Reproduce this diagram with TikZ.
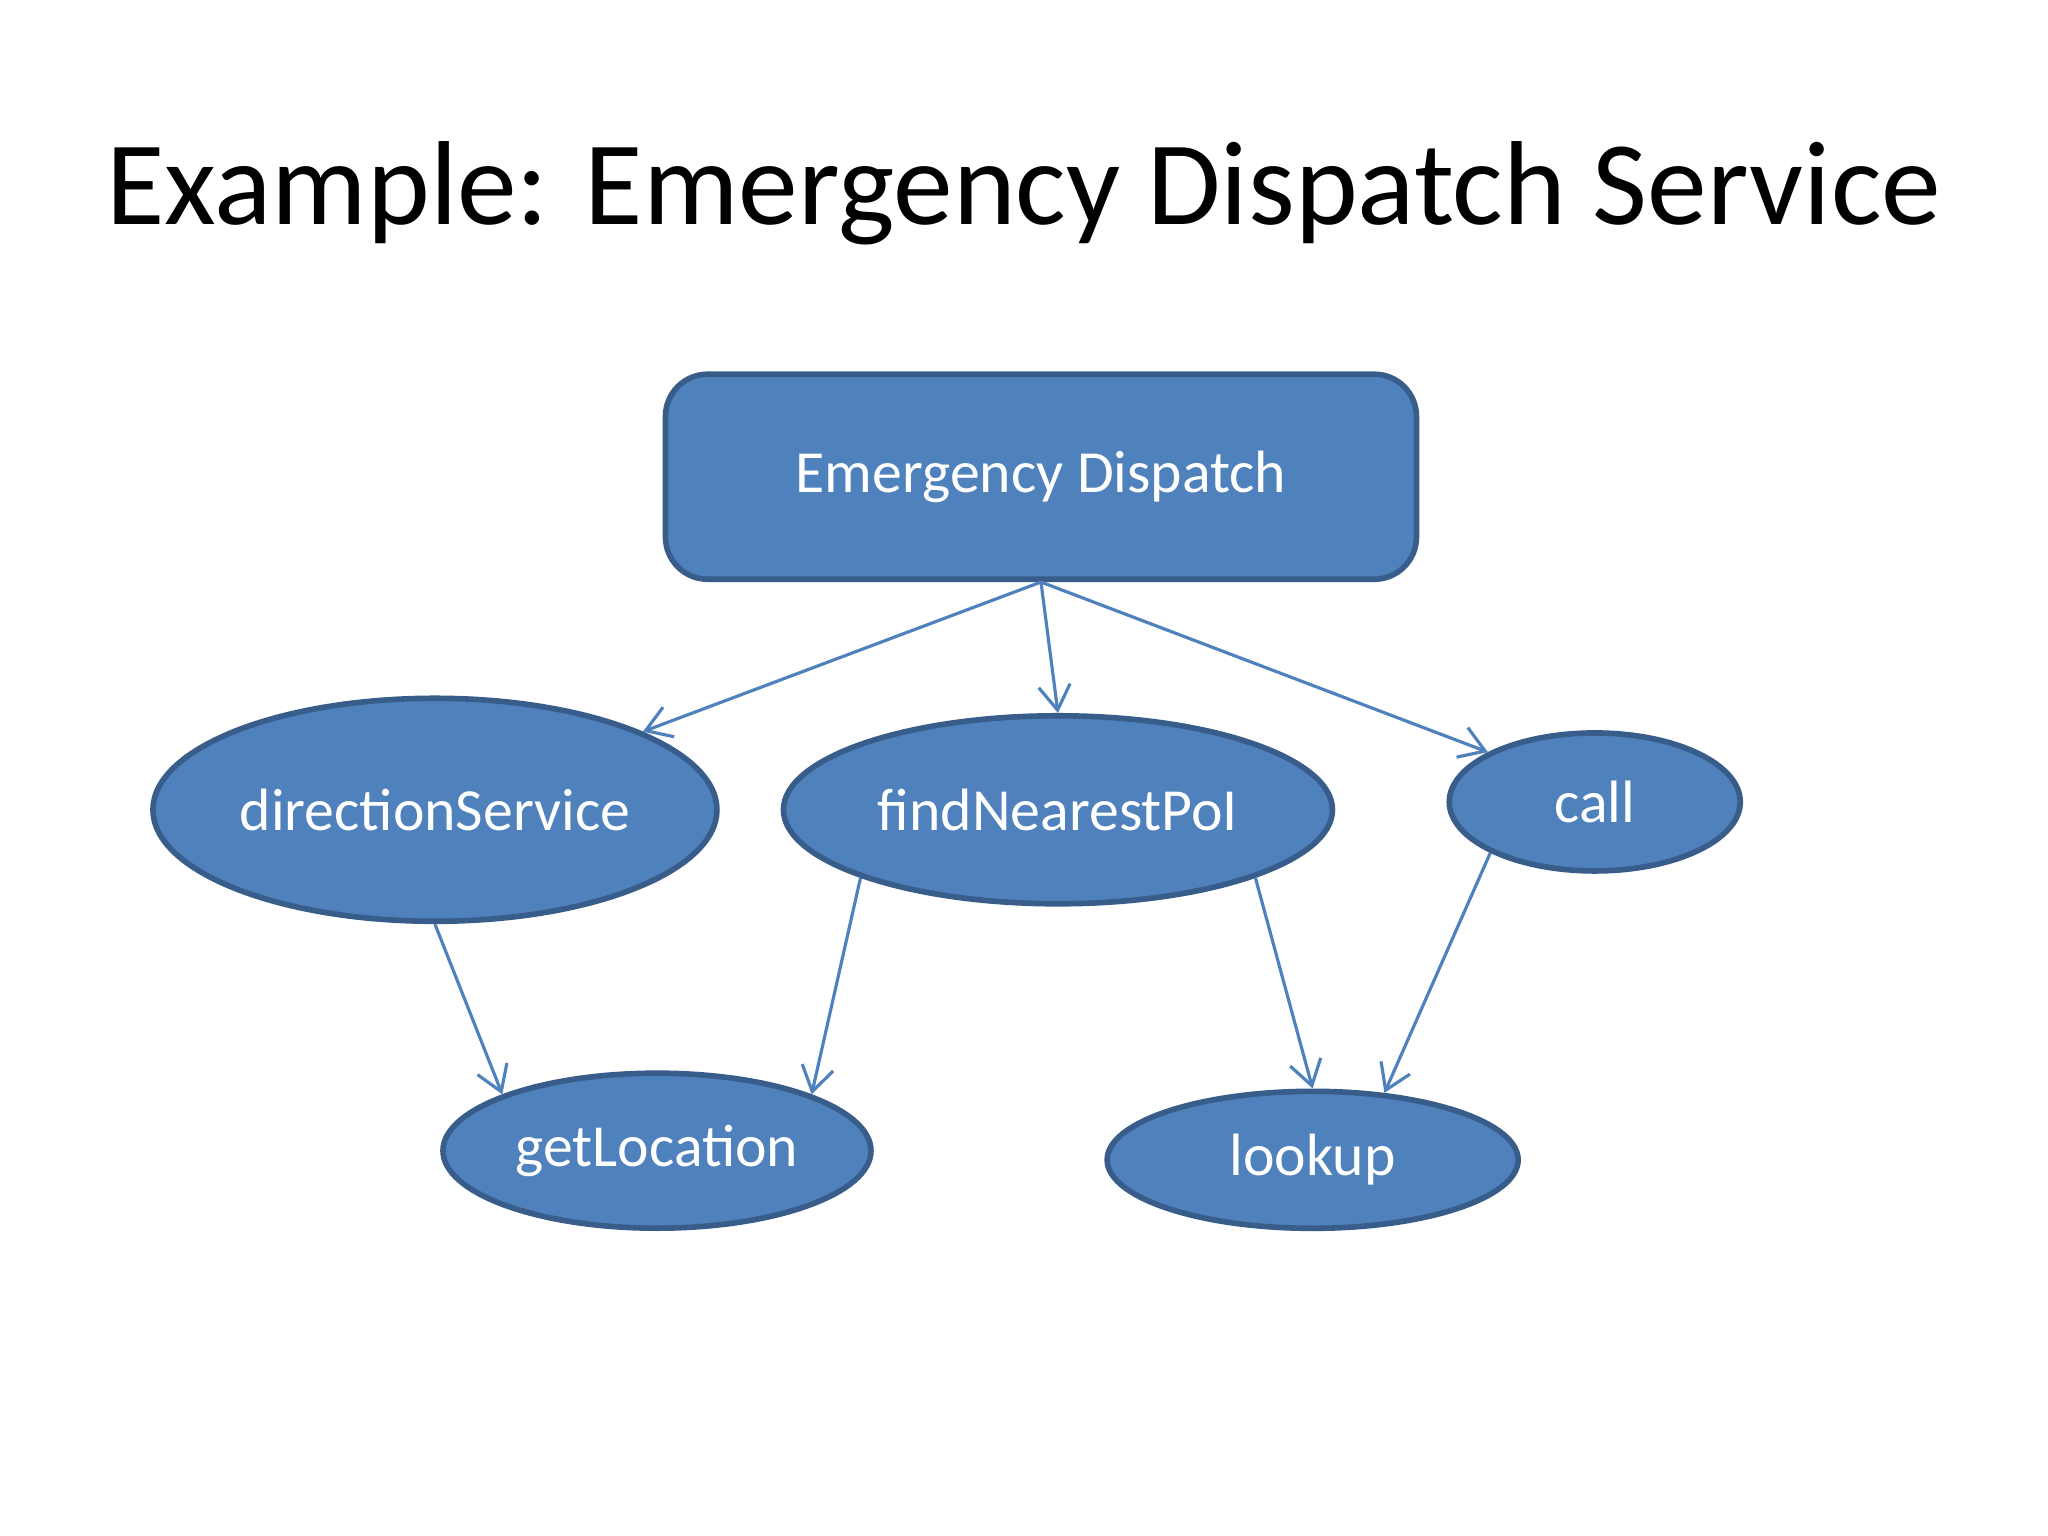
\documentclass[tikz,border=0pt]{standalone}
\usepackage{fontspec}
\setmainfont{Carlito}
\usetikzlibrary{shapes.geometric, arrows.meta}
\definecolor{nodefill}{RGB}{79,129,189}
\definecolor{nodeline}{RGB}{56,93,138}
\tikzset{
  box/.style={rectangle, rounded corners=12pt, draw=nodeline, line width=1.6pt,
              fill=nodefill, text=white, font=\fontsize{17}{20}\selectfont,
              inner sep=0pt},
  oval/.style={ellipse, draw=nodeline, line width=1.6pt, fill=nodefill,
               text=white, font=\fontsize{17}{20}\selectfont, inner sep=0pt},
  link/.style={-{Straight Barb[length=7pt, width=9pt]}, draw=nodefill, line width=0.9pt},
}
\begin{document}
\begin{tikzpicture}[x=0.013061cm, y=-0.013061cm]
  \useasboundingbox (0,0) rectangle (1568,1176);
  \node[font=\fontsize{34}{40}\selectfont] (title) at (784,148) {Example: Emergency Dispatch Service};

  \node[box, minimum width=7.51cm, minimum height=2.05cm] (top) at (797,365) {Emergency Dispatch};
  \node[oval, minimum width=5.64cm, minimum height=2.23cm] (dir) at (333,620) {directionService};
  \node[oval, minimum width=5.49cm, minimum height=1.88cm] (find) at (810,620) {findNearestPoI};
  \node[oval, minimum width=2.91cm, minimum height=1.38cm] (call) at (1221,614) {call};
  \node[oval, minimum width=4.28cm, minimum height=1.55cm] (getloc) at (503,881) {getLocation};
  \node[oval, minimum width=4.11cm, minimum height=1.37cm] (lookup) at (1005,888) {lookup};

  \draw[link] (top.south) -- (dir);
  \draw[link] (top.south) -- (find.90);
  \draw[link] (top.south) -- (call.155);
  \draw[link] (dir.270) -- (getloc.160);
  \draw[link] (find.199) -- (getloc.20);
  \draw[link] (find.341) -- (lookup.90);
  \draw[link] (call.206) -- (lookup.43);
\end{tikzpicture}
\end{document}
